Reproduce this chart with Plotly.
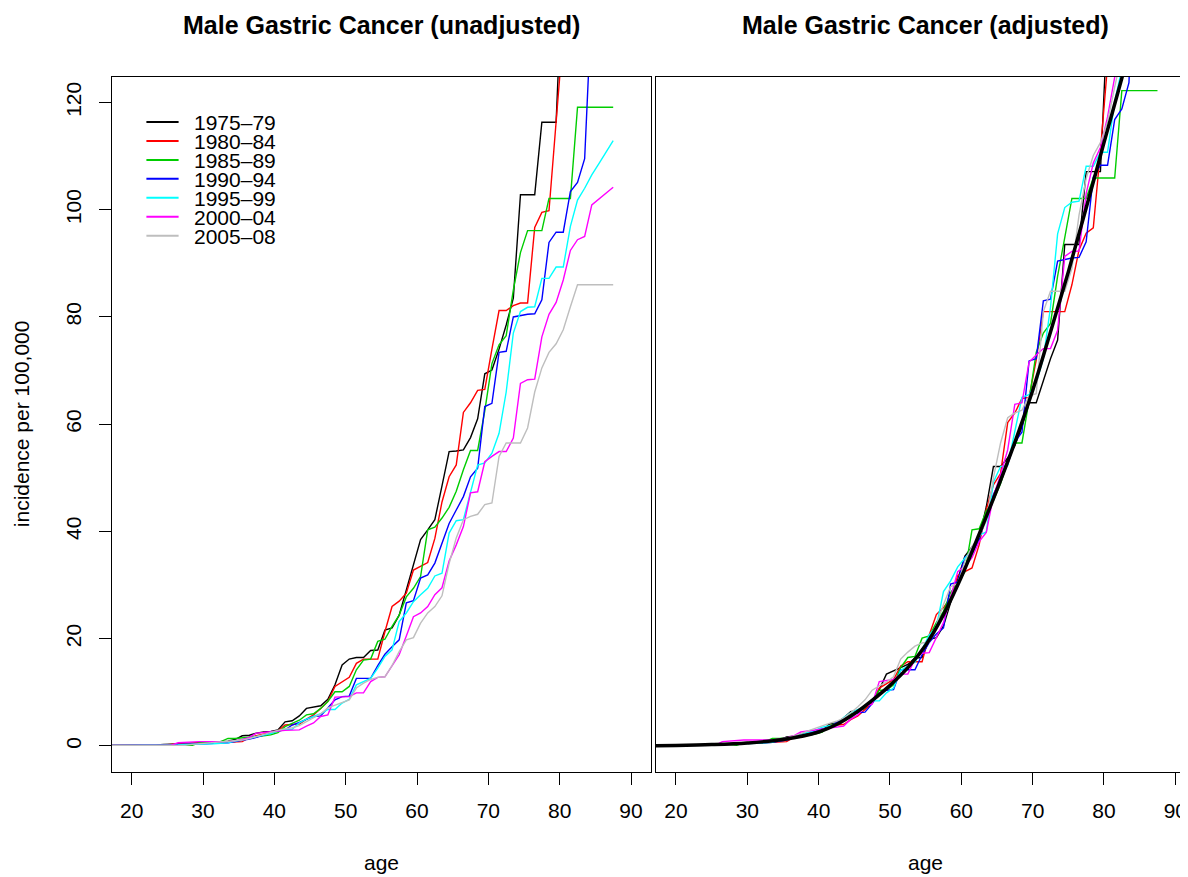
import plotly.graph_objects as go

# ---------------- data ----------------
ages = [16.5, 17.5, 18.5, 19.5, 20.5, 21.5, 22.5, 23.5, 24.5, 25.5, 26.5, 27.5,
        28.5, 29.5, 30.5, 31.5, 32.5, 33.5, 34.5, 35.5, 36.5, 37.5, 38.5, 39.5,
        40.5, 41.5, 42.5, 43.5, 44.5, 45.5, 46.5, 47.5, 48.5, 49.5, 50.5, 51.5,
        52.5, 53.5, 54.5, 55.5, 56.5, 57.5, 58.5, 59.5, 60.5, 61.5, 62.5, 63.5,
        64.5, 65.5, 66.5, 67.5, 68.5, 69.5, 70.5, 71.5, 72.5, 73.5, 74.5, 75.5,
        76.5, 77.5, 78.5, 79.5, 80.5, 81.5, 82.5, 83.5, 84.5, 85.5, 86.5, 87.5]

periods = ["1975–79", "1980–84", "1985–89", "1990–94", "1995–99", "2000–04", "2005–08"]
colors = ["#000000", "#FF0000", "#00CD00", "#0000FF", "#00FFFF", "#FF00FF", "#BEBEBE"]

# unadjusted incidence per 100,000
raw_1975 = [0.1, 0.1, 0.1, 0.1, 0.1, 0.2, 0.2, 0.2, 0.3, 0.3, 0.4, 0.4,
            0.5, 0.6, 0.7, 0.7, 0.8, 0.9, 1.2, 1.9, 2.0, 2.4, 2.6, 2.7,
            3.0, 4.5, 4.7, 5.6, 7.0, 7.3, 7.5, 8.7, 11.4, 15.1, 16.2, 16.5,
            16.5, 17.8, 17.9, 21.6, 22.0, 24.4, 29.1, 33.5, 38.5, 40.3, 42.2, 48.5,
            54.9, 55.0, 55.2, 57.5, 61.0, 69.4, 70.1, 74.0, 78.5, 83.5, 102.8, 102.8,
            102.8, 116.3, 116.3, 116.3, 148.0, None, None, None, None, None, None, None]
raw_1980 = [0.1, 0.1, 0.1, 0.1, 0.1, 0.1, 0.2, 0.2, 0.2, 0.3, 0.3, 0.4,
            0.5, 0.5, 0.6, 0.6, 0.6, 0.7, 0.7, 0.8, 1.6, 1.9, 2.2, 2.5,
            2.8, 3.9, 4.0, 4.1, 5.0, 5.8, 7.0, 8.3, 11.1, 12.0, 12.8, 15.4,
            16.2, 16.2, 16.2, 21.3, 26.0, 27.0, 28.5, 32.8, 33.5, 34.2, 38.7, 45.5,
            50.2, 52.4, 62.2, 64.0, 66.3, 66.5, 74.0, 81.2, 81.2, 82.1, 82.6, 82.6,
            96.7, 99.5, 99.8, 116.0, 133.0, None, None, None, None, None, None, None]
raw_1985 = [0.1, 0.1, 0.1, 0.1, 0.1, 0.1, 0.1, 0.1, 0.1, 0.1, 0.1, 0.1,
            0.1, 0.6, 0.6, 0.7, 0.8, 1.4, 1.4, 1.5, 1.6, 1.7, 1.9, 2.1,
            2.5, 3.6, 4.2, 4.8, 5.8, 6.0, 7.0, 8.3, 10.1, 10.1, 11.1, 14.2,
            16.0, 16.2, 19.5, 19.9, 22.3, 24.4, 27.8, 29.4, 31.6, 40.3, 40.8, 42.5,
            44.5, 47.5, 51.5, 55.1, 55.1, 62.5, 71.3, 74.8, 76.5, 85.0, 92.0, 96.1,
            96.1, 96.1, 102.1, 102.1, 102.1, 102.1, 119.1, 119.1, 119.1, 119.1, 119.1, 119.1]
raw_1990 = [0.1, 0.1, 0.1, 0.1, 0.1, 0.1, 0.2, 0.2, 0.2, 0.2, 0.3, 0.3,
            0.3, 0.4, 0.4, 0.5, 0.5, 0.6, 0.8, 1.0, 1.3, 1.6, 2.0, 2.4,
            2.8, 3.0, 3.9, 4.4, 5.0, 5.5, 5.6, 7.0, 8.6, 9.2, 9.3, 12.6,
            12.6, 12.6, 15.0, 17.1, 18.5, 19.8, 26.7, 27.1, 31.3, 31.9, 34.1, 38.0,
            41.5, 44.0, 46.5, 50.2, 51.8, 63.3, 63.9, 73.4, 73.6, 80.0, 80.3, 80.5,
            80.6, 83.2, 93.9, 95.8, 95.8, 103.4, 105.1, 109.5, 139.0, None, None, None]
raw_1995 = [0.1, 0.1, 0.1, 0.1, 0.1, 0.1, 0.1, 0.1, 0.2, 0.2, 0.2, 0.3,
            0.3, 0.3, 0.4, 0.4, 0.5, 0.6, 0.9, 1.2, 1.4, 1.7, 2.0, 2.3,
            2.8, 3.1, 3.1, 4.3, 5.0, 5.5, 6.0, 6.8, 6.8, 8.0, 8.7, 11.4,
            12.0, 12.6, 14.5, 16.7, 17.9, 23.2, 24.8, 26.9, 28.2, 29.4, 31.7, 32.2,
            39.7, 42.0, 42.2, 47.4, 52.4, 52.8, 54.6, 58.3, 66.0, 77.0, 81.0, 81.8,
            81.9, 87.2, 87.2, 89.3, 89.3, 96.9, 101.8, 104.0, 106.5, 108.6, 110.7, 112.9]
raw_2000 = [0.1, 0.1, 0.1, 0.1, 0.1, 0.1, 0.1, 0.1, 0.1, 0.1, 0.6, 0.7,
            0.8, 0.8, 0.8, 0.8, 0.8, 0.8, 1.0, 1.2, 1.6, 2.4, 2.5, 2.7,
            2.8, 2.9, 2.9, 3.0, 3.7, 4.3, 5.5, 5.8, 9.1, 9.2, 9.2, 9.9,
            9.9, 12.0, 12.8, 12.9, 15.0, 17.0, 20.5, 24.1, 24.8, 26.0, 28.2, 29.5,
            34.5, 37.5, 40.9, 47.2, 47.4, 53.0, 54.0, 54.9, 54.9, 57.4, 67.6, 68.3,
            68.4, 76.3, 80.5, 82.7, 86.9, 92.4, 94.4, 95.0, 100.9, 102.0, 103.1, 104.2]
raw_2005 = [0.1, 0.1, 0.1, 0.1, 0.1, 0.1, 0.1, 0.1, 0.1, 0.1, 0.1, 0.1,
            0.3, 0.4, 0.5, 0.6, 0.7, 0.8, 0.9, 1.1, 1.4, 1.8, 2.2, 2.6,
            2.9, 3.2, 3.4, 3.8, 4.5, 5.2, 6.0, 7.1, 7.6, 8.0, 8.6, 10.8,
            11.7, 12.4, 12.8, 12.9, 15.0, 17.6, 19.8, 20.2, 22.9, 24.8, 26.0, 28.0,
            34.0, 38.8, 42.2, 42.8, 43.2, 45.0, 45.3, 54.0, 56.5, 56.5, 56.5, 59.3,
            66.0, 70.5, 73.4, 75.0, 77.6, 81.9, 86.0, 86.0, 86.0, 86.0, 86.0, 86.0]

# adjusted incidence per 100,000
adj_1975 = [0.1, 0.1, 0.1, 0.1, 0.1, 0.2, 0.2, 0.2, 0.3, 0.3, 0.4, 0.4,
            0.5, 0.6, 0.6, 0.6, 0.7, 0.8, 1.1, 1.7, 1.8, 2.2, 2.4, 2.5,
            2.8, 4.1, 4.3, 5.2, 6.4, 6.7, 6.9, 8.0, 10.5, 13.4, 14.0, 14.5,
            15.2, 16.4, 16.5, 19.9, 20.2, 22.4, 26.8, 30.8, 35.4, 37.1, 38.8, 44.6,
            52.1, 52.1, 53.7, 56.0, 59.5, 64.0, 64.0, 68.1, 72.2, 75.7, 93.5, 93.5,
            93.5, 107.1, 107.1, 107.1, 136.0, None, None, None, None, None, None, None]
adj_1980 = [0.1, 0.1, 0.1, 0.1, 0.1, 0.1, 0.2, 0.2, 0.2, 0.3, 0.3, 0.4,
            0.5, 0.5, 0.6, 0.6, 0.6, 0.7, 0.7, 0.8, 1.6, 1.8, 2.1, 2.4,
            2.7, 3.8, 3.9, 4.0, 4.9, 5.6, 6.8, 8.1, 10.8, 11.6, 12.4, 14.9,
            15.7, 15.7, 15.7, 20.7, 24.5, 25.8, 27.6, 31.8, 32.5, 33.2, 37.5, 44.1,
            48.7, 50.8, 60.3, 62.1, 64.8, 65.0, 72.0, 81.0, 81.0, 81.0, 81.0, 86.0,
            92.5, 95.6, 96.6, 111.0, 127.0, None, None, None, None, None, None, None]
adj_1985 = [0.1, 0.1, 0.1, 0.1, 0.1, 0.1, 0.1, 0.1, 0.1, 0.1, 0.1, 0.1,
            0.1, 0.6, 0.6, 0.7, 0.8, 1.4, 1.4, 1.5, 1.6, 1.8, 2.0, 2.2,
            2.6, 3.7, 4.3, 4.9, 6.0, 6.2, 7.2, 8.5, 10.4, 10.4, 11.4, 14.6,
            16.5, 16.7, 20.1, 20.5, 23.0, 25.1, 28.6, 30.3, 32.5, 40.3, 40.5, 43.8,
            45.8, 48.9, 53.0, 56.5, 56.5, 64.5, 73.4, 77.0, 78.8, 87.6, 94.8, 102.1,
            102.1, 102.1, 105.9, 105.9, 105.9, 105.9, 122.2, 122.2, 122.2, 122.2, 122.2, 122.2]
adj_1990 = [0.1, 0.1, 0.1, 0.1, 0.1, 0.1, 0.2, 0.2, 0.2, 0.2, 0.3, 0.3,
            0.3, 0.5, 0.5, 0.6, 0.6, 0.7, 0.9, 1.1, 1.5, 1.8, 2.3, 2.7,
            3.2, 3.4, 4.4, 5.0, 5.7, 6.2, 6.3, 7.9, 9.7, 10.4, 10.5, 14.2,
            14.2, 14.2, 17.0, 19.3, 20.9, 22.0, 30.2, 30.6, 35.2, 35.8, 38.5, 42.9,
            46.9, 49.7, 52.5, 56.7, 58.5, 71.8, 72.2, 83.0, 83.3, 90.4, 90.7, 91.0,
            91.1, 94.0, 106.1, 108.3, 108.3, 116.8, 118.8, 123.7, 157.0, None, None, None]
adj_1995 = [0.1, 0.1, 0.1, 0.1, 0.1, 0.1, 0.1, 0.1, 0.2, 0.2, 0.2, 0.4,
            0.4, 0.4, 0.5, 0.5, 0.6, 0.7, 1.1, 1.5, 1.7, 2.1, 2.5, 2.9,
            3.5, 3.8, 3.8, 5.3, 6.2, 6.8, 7.4, 8.4, 8.4, 9.9, 10.8, 14.1,
            14.9, 15.6, 18.0, 20.7, 22.2, 28.8, 30.8, 33.4, 35.0, 36.5, 39.3, 39.9,
            49.2, 52.1, 52.3, 58.8, 65.0, 65.5, 67.7, 72.3, 81.8, 95.5, 100.4, 101.4,
            101.6, 108.1, 108.1, 110.7, 110.7, 120.2, 126.2, 129.0, 132.1, 134.7, 137.3, 140.0]
adj_2000 = [0.1, 0.1, 0.1, 0.1, 0.1, 0.1, 0.1, 0.1, 0.1, 0.1, 0.8, 0.9,
            1.1, 1.1, 1.1, 1.1, 1.1, 1.1, 1.3, 1.5, 1.9, 2.6, 2.8, 3.0,
            3.2, 3.4, 3.5, 3.7, 5.0, 5.8, 7.4, 7.8, 12.0, 12.2, 12.4, 13.4,
            13.4, 16.2, 17.3, 17.4, 20.3, 23.0, 27.7, 32.5, 33.5, 35.1, 38.1, 39.8,
            46.6, 50.6, 55.2, 63.7, 64.0, 71.6, 72.9, 74.1, 74.1, 77.5, 91.3, 92.2,
            92.3, 103.0, 108.7, 111.6, 117.3, 124.7, 127.4, 128.3, 136.2, 137.7, 139.2, 140.7]
adj_2005 = [0.1, 0.1, 0.1, 0.1, 0.1, 0.1, 0.1, 0.1, 0.1, 0.1, 0.1, 0.1,
            0.3, 0.4, 0.6, 0.7, 0.8, 1.0, 1.1, 1.4, 1.8, 2.3, 2.8, 3.3,
            3.7, 4.2, 4.6, 5.2, 6.2, 7.3, 8.6, 10.4, 11.2, 11.9, 12.9, 16.2,
            17.5, 18.6, 19.2, 19.4, 22.5, 26.4, 29.7, 30.3, 34.4, 37.2, 39.0, 42.0,
            50.0, 56.5, 61.2, 62.1, 62.6, 65.3, 65.7, 81.0, 84.8, 84.8, 84.8, 89.0,
            99.0, 105.8, 110.1, 112.5, 116.4, 122.9, 129.0, 129.0, 129.0, 129.0, 129.0, 129.0]

# fitted age curve (thick black line, right panel)
fit_age = [16.5, 20, 25, 30, 35, 40, 42.5, 45, 47.5, 50, 52.5, 55, 57.5, 60,
           62.5, 65, 67.5, 70, 72.5, 75, 77.5, 80, 82.5, 85]
fit_val = [0.05, 0.1, 0.25, 0.55, 1.2, 2.6, 4.0, 6.0, 8.5, 11.3, 14.6, 18.8, 24.5, 31.5,
           39.5, 47.8, 56.6, 66.3, 77.2, 88.4, 100.3, 112.5, 124.5, 137.0]

x_ticks = [20, 30, 40, 50, 60, 70, 80, 90]
y_ticks = [0, 20, 40, 60, 80, 100, 120]

raw_series = [raw_1975, raw_1980, raw_1985, raw_1990, raw_1995, raw_2000, raw_2005]
adj_series = [adj_1975, adj_1980, adj_1985, adj_1990, adj_1995, adj_2000, adj_2005]

# ---------------- figure ----------------
# the page body has an 8px margin, so the figure is laid out in page pixels minus 8
PAGE_W, PAGE_H = 1188, 877
OFF = 8
W, H = PAGE_W - OFF, PAGE_H - OFF
FONT = "Liberation Sans, Arial, Helvetica, sans-serif"


def px_x(p):
    return (p - OFF) / W


def px_y(p):
    return 1 - (p - OFF) / H


fig = go.Figure()

for name, col, ys in zip(periods, colors, raw_series):
    fig.add_trace(go.Scatter(x=ages, y=ys, mode="lines", name=name,
                             line=dict(color=col, width=1.4),
                             xaxis="x", yaxis="y", showlegend=False,
                             connectgaps=False, hoverinfo="skip"))

for name, col, ys in zip(periods, colors, adj_series):
    fig.add_trace(go.Scatter(x=ages, y=ys, mode="lines", name=name,
                             line=dict(color=col, width=1.4),
                             xaxis="x2", yaxis="y2", showlegend=False,
                             connectgaps=False, hoverinfo="skip"))

fig.add_trace(go.Scatter(x=fit_age, y=fit_val, mode="lines", name="fitted",
                         line=dict(color="#000000", width=3.5, shape="spline"),
                         xaxis="x2", yaxis="y2", showlegend=False, hoverinfo="skip"))

# panel geometry (page pixels)
L1, R1 = 111.7, 651.0
L2, R2 = 656.0, 1188.0
TOP, BOT = 76.7, 771.7
px_per_year = (R1 - L1) / (92.8 - 17.2)
x2_max = 17.2 + (R2 - L2) / px_per_year

axis_common = dict(showgrid=False, zeroline=False, showline=True, linecolor="black",
                   linewidth=1, ticks="outside", ticklen=12, tickwidth=1,
                   tickcolor="black", automargin=False,
                   tickfont=dict(family=FONT, size=21, color="black"))

fig.update_layout(
    width=W, height=H, autosize=False,
    margin=dict(l=0, r=0, t=0, b=0, pad=0),
    paper_bgcolor="white", plot_bgcolor="white",
    showlegend=False, hovermode=False,
    font=dict(family=FONT, size=21, color="black"),
    xaxis=dict(domain=[px_x(L1), px_x(R1)], range=[17.2, 92.8], anchor="y",
               tickvals=x_ticks, mirror=True, ticklabelstandoff=8, **axis_common),
    yaxis=dict(domain=[px_y(BOT), px_y(TOP)], range=[-4.8, 124.8], anchor="x",
               tickvals=y_ticks, tickangle=-90, mirror=True, ticklabelstandoff=9,
               **axis_common),
    xaxis2=dict(domain=[px_x(L2), px_x(R2)], range=[17.2, x2_max], anchor="y2",
                tickvals=x_ticks, mirror=True, ticklabelstandoff=8, **axis_common),
    yaxis2=dict(domain=[px_y(BOT), px_y(TOP)], range=[-4.8, 124.8], anchor="x2",
                showgrid=False, zeroline=False, showline=True, linecolor="black",
                linewidth=1, ticks="", showticklabels=False, mirror=False),
)

ann = []
ann.append(dict(text="<b>Male Gastric Cancer (unadjusted)</b>", x=px_x((L1 + R1) / 2),
                y=px_y(25), xref="paper", yref="paper", showarrow=False,
                xanchor="center", yanchor="middle", font=dict(family=FONT, size=25)))
ann.append(dict(text="<b>Male Gastric Cancer (adjusted)</b>", x=px_x(925.5),
                y=px_y(25), xref="paper", yref="paper", showarrow=False,
                xanchor="center", yanchor="middle", font=dict(family=FONT, size=25)))
ann.append(dict(text="age", x=px_x((L1 + R1) / 2), y=px_y(862), xref="paper",
                yref="paper", showarrow=False, xanchor="center", yanchor="middle",
                font=dict(family=FONT, size=21)))
ann.append(dict(text="age", x=px_x(925.5), y=px_y(862), xref="paper",
                yref="paper", showarrow=False, xanchor="center", yanchor="middle",
                font=dict(family=FONT, size=21)))
ann.append(dict(text="incidence per 100,000", x=px_x(21), y=px_y((TOP + BOT) / 2),
                xref="paper", yref="paper", showarrow=False, textangle=-90,
                xanchor="center", yanchor="middle", font=dict(family=FONT, size=21)))

# legend (top-left of left panel)
shapes = []
row0, row_gap = 122.0, 18.95
for i, (name, col) in enumerate(zip(periods, colors)):
    yy = row0 + i * row_gap
    shapes.append(dict(type="line", xref="paper", yref="paper",
                       x0=px_x(146.4), x1=px_x(178.6), y0=px_y(yy), y1=px_y(yy),
                       line=dict(color=col, width=2)))
    ann.append(dict(text=name, x=px_x(193.0), y=px_y(yy + 0.5), xref="paper",
                    yref="paper", showarrow=False, xanchor="left", yanchor="middle",
                    height=18, borderpad=0,
                    font=dict(family=FONT, size=21)))

fig.update_layout(annotations=ann, shapes=shapes)

fig.write_html("out.html", config={"displayModeBar": False})
